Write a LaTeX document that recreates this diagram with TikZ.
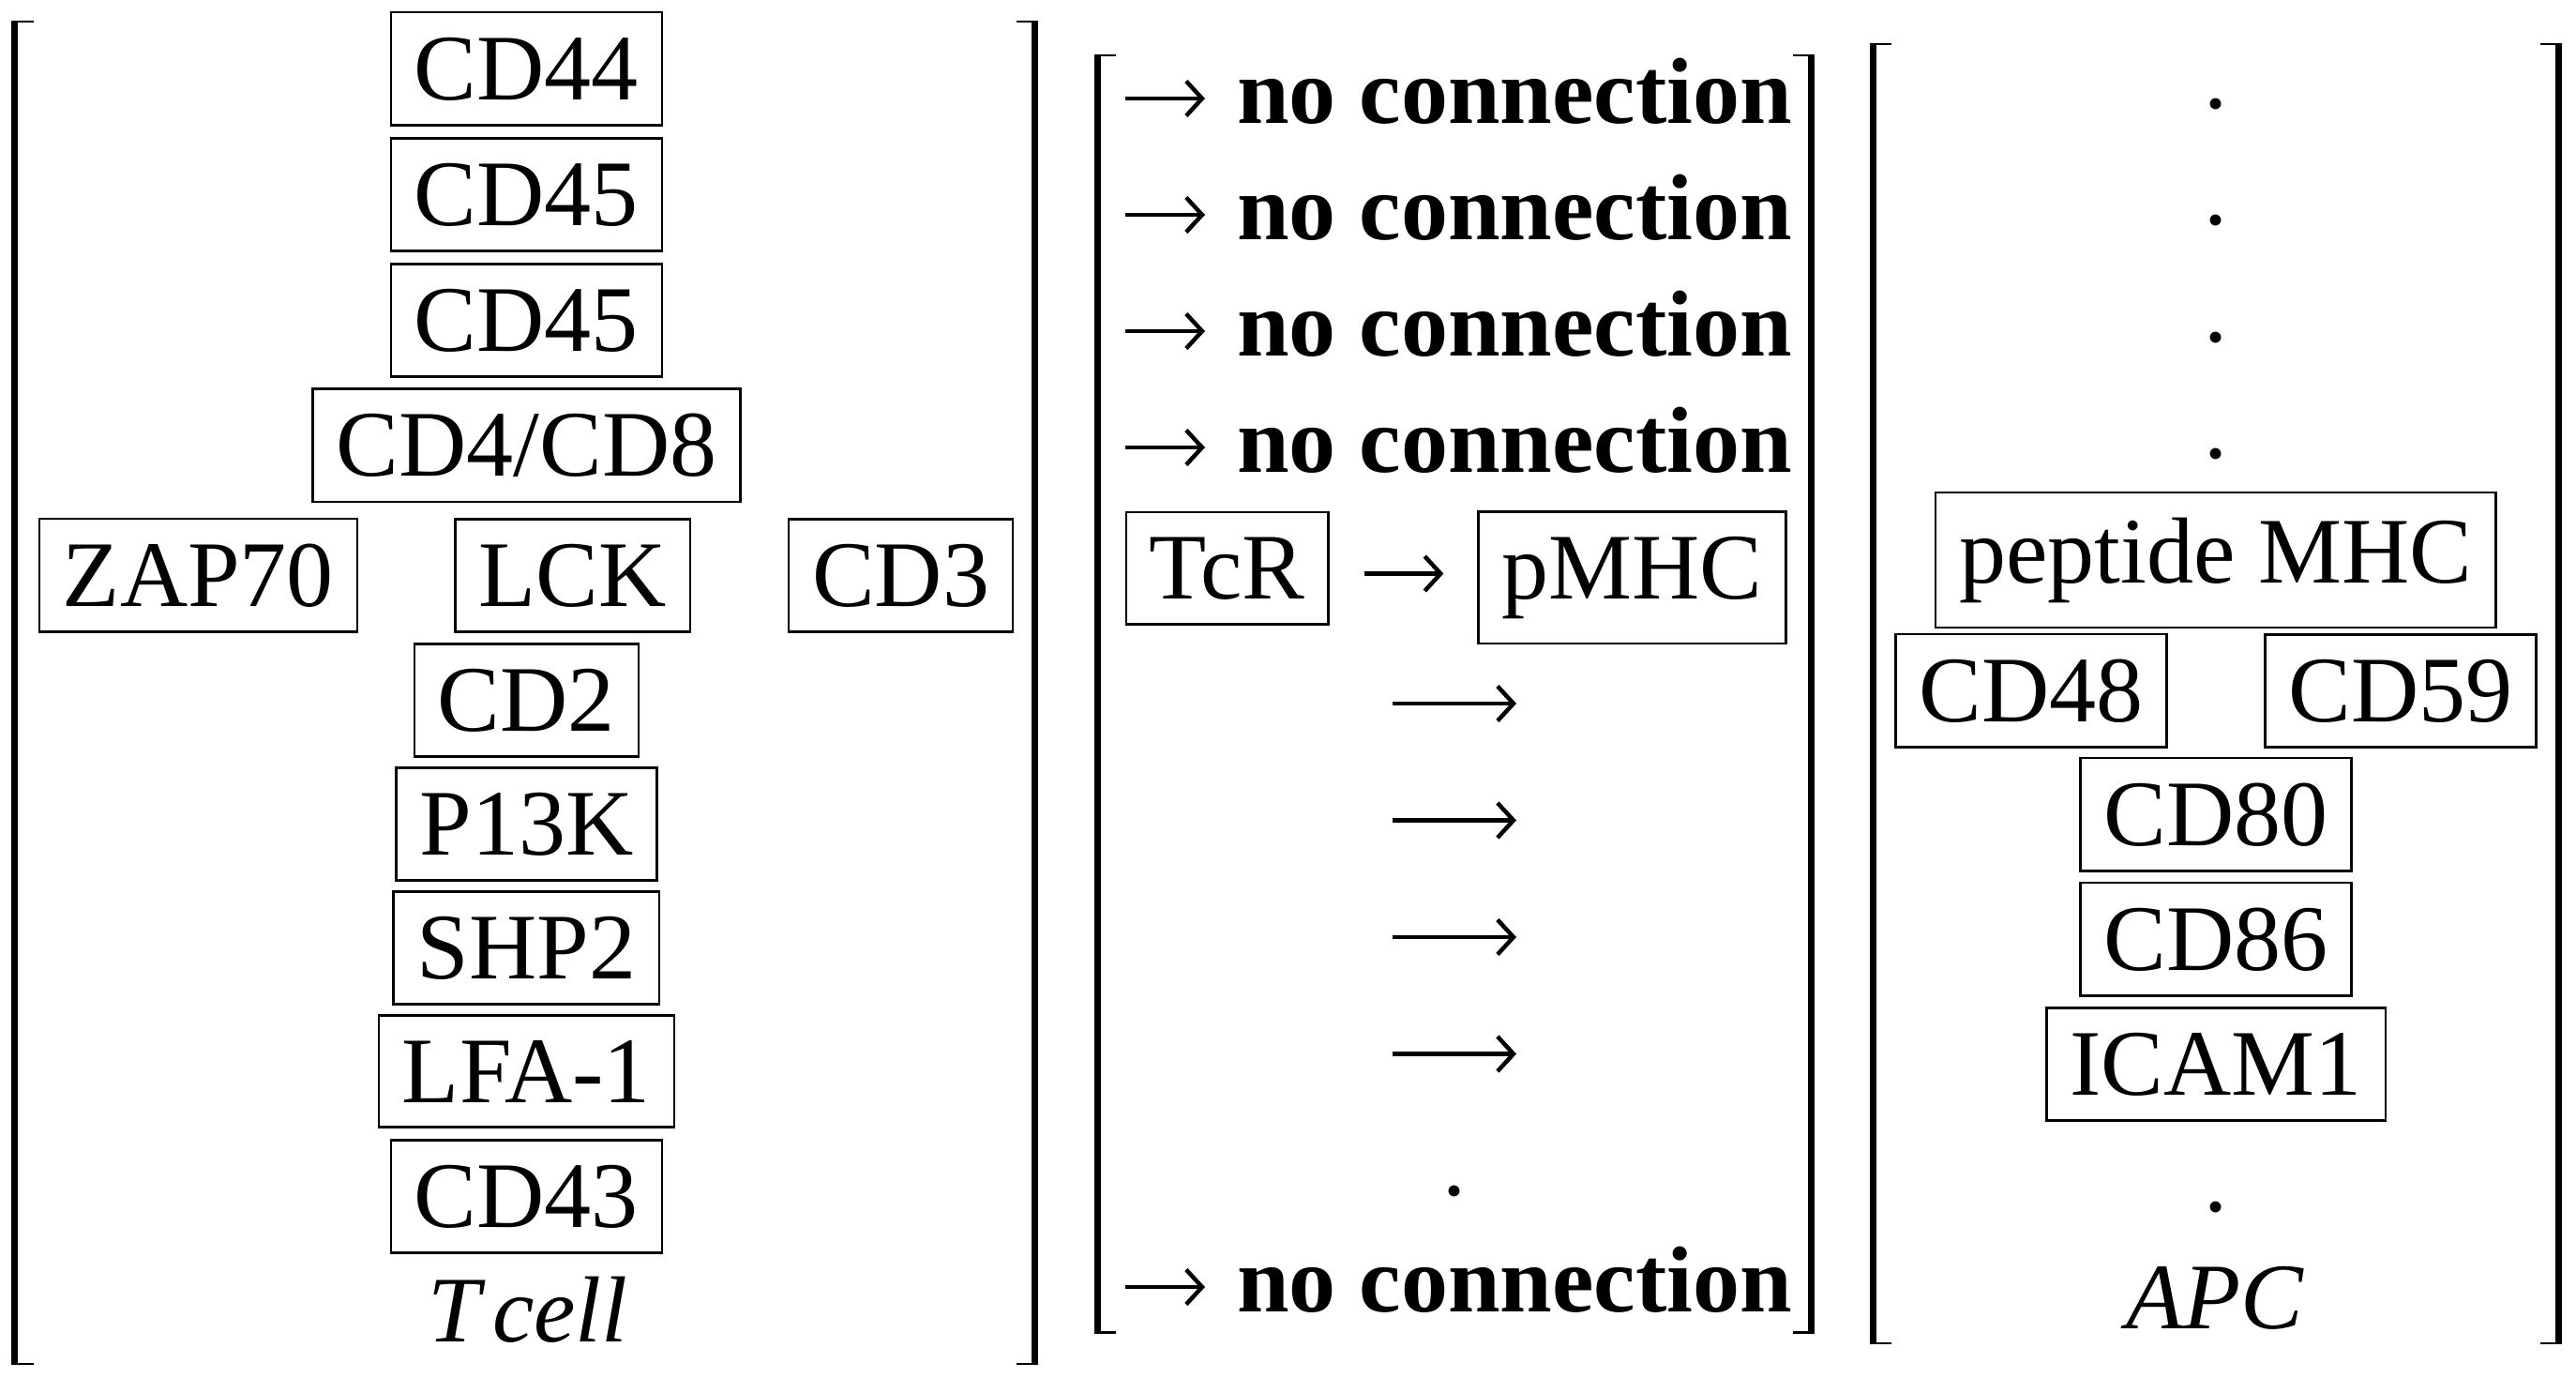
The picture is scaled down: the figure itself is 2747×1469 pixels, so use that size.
\documentclass[tikz,border=0pt]{standalone}
\usepackage{fontspec}
\setmainfont{Liberation Serif}
\usetikzlibrary{arrows.meta}
\newcommand{\openbrk}[3]{%
  \fill (#1,#2) rectangle ({#1+7},#3);
  \fill (#1,#2) rectangle ({#1+23.4},{#2+2.4});
  \fill (#1,{#3-2.4}) rectangle ({#1+23.4},#3);}
\newcommand{\closebrk}[3]{%
  \fill ({#1-7},#2) rectangle (#1,#3);
  \fill ({#1-23.4},#2) rectangle (#1,{#2+2.4});
  \fill ({#1-23.4},{#3-2.4}) rectangle (#1,#3);}
\begin{document}
\begin{tikzpicture}[x=0.01cm,y=-0.01cm,
  every node/.style={font=\fontsize{28.45pt}{34pt}\selectfont},
  box/.style={draw, line width=0.025cm, inner xsep=0.25cm, inner ysep=0.265cm, anchor=base},
  lab/.style={inner sep=0pt, anchor=base},
  arr/.style={line width=0.045cm, -{Straight Barb[length=0.17cm,width=0.37cm]}}]
\useasboundingbox (0,0) rectangle (2747,1469);
\fill[white] (0,0) rectangle (2747,1469);

% brackets
\openbrk{12.3}{21.7}{1455}
\closebrk{1107}{21.7}{1455}
\openbrk{1167}{57.5}{1421.7}
\closebrk{1935}{57.5}{1421.7}
\openbrk{1993.5}{45.5}{1433}
\closebrk{2732}{45.5}{1433}

% T cell column
\node[box] (cd44) at (561.4,106) {CD44};
\node[box] (cd45a) at (561.4,240) {CD45};
\node[box] (cd45b) at (561.4,374) {CD45};
\node[box] (cd4) at (561.4,507.5) {CD4/CD8};
\node[box] (zap) at (211.4,646) {ZAP70};
\node[box] (lck) at (610.7,646) {LCK};
\node[box] (cd3) at (960.7,646) {CD3};
\node[box] (cd2) at (561.4,779) {CD2};
\node[box] (p13k) at (561.4,911) {P13K};
\node[box] (shp2) at (561.4,1043) {SHP2};
\node[box] (lfa) at (561.4,1175) {LFA-1};
\node[box] (cd43) at (561.4,1308) {CD43};
\node[lab, anchor=base west] (tcell) at (455.8,1430) {\itshape T\kern0.13em cell};

% middle column
\node[lab, anchor=base west] (nc1) at (1318.5,131.5) {\bfseries no connection};
\node[lab, anchor=base west] (nc2) at (1318.5,255.5) {\bfseries no connection};
\node[lab, anchor=base west] (nc3) at (1318.5,379.5) {\bfseries no connection};
\node[lab, anchor=base west] (nc4) at (1318.5,503.5) {\bfseries no connection};
\node[lab, anchor=base west] (nc5) at (1318.5,1398.5) {\bfseries no connection};
\coordinate (a1) at (1200,105);
\coordinate (a2) at (1200,229);
\coordinate (a3) at (1200,353);
\coordinate (a4) at (1200,477);
\coordinate (a5) at (1200,1372);
\draw[arr, shorten >=0.335cm] (a1) -- (nc1.west |- a1);
\draw[arr, shorten >=0.335cm] (a2) -- (nc2.west |- a2);
\draw[arr, shorten >=0.335cm] (a3) -- (nc3.west |- a3);
\draw[arr, shorten >=0.335cm] (a4) -- (nc4.west |- a4);
\draw[arr, shorten >=0.335cm] (a5) -- (nc5.west |- a5);

\node[box] (tcr) at (1308.6,638) {TcR};
\node[box] (pmhc) at (1740.6,638) {pMHC};
\coordinate (ax5) at (0,611.5);
\draw[arr, shorten <=0.37cm, shorten >=0.36cm] (tcr.east |- ax5) -- (pmhc.west |- ax5);

\coordinate (l1s) at (1485,750);    \coordinate (l1e) at (1617,750);
\coordinate (l2s) at (1485,874.5);  \coordinate (l2e) at (1617,874.5);
\coordinate (l3s) at (1485,999);    \coordinate (l3e) at (1617,999);
\coordinate (l4s) at (1485,1123.5); \coordinate (l4e) at (1617,1123.5);
\draw[arr] (l1s) -- (l1e);
\draw[arr] (l2s) -- (l2e);
\draw[arr] (l3s) -- (l3e);
\draw[arr] (l4s) -- (l4e);
\node[lab] (mdot) at (1551,1274) {.};

% APC column
\node[lab] (d1) at (2363.3,115.5) {.};
\node[lab] (d2) at (2363.3,239.5) {.};
\node[lab] (d3) at (2363.3,364) {.};
\node[lab] (d4) at (2363.3,488) {.};
\node[box] (pep) at (2362.8,621) {peptide MHC};
\node[box] (cd48) at (2165.8,769) {CD48};
\node[box] (cd59) at (2560,769) {CD59};
\node[box] (cd80) at (2363,901) {CD80};
\node[box] (cd86) at (2363,1034) {CD86};
\node[box] (icam) at (2363.3,1167) {ICAM1};
\node[lab] (d5) at (2363.3,1291) {.};
\node[lab] (apc) at (2362,1416) {\itshape APC};
\end{tikzpicture}
\end{document}
